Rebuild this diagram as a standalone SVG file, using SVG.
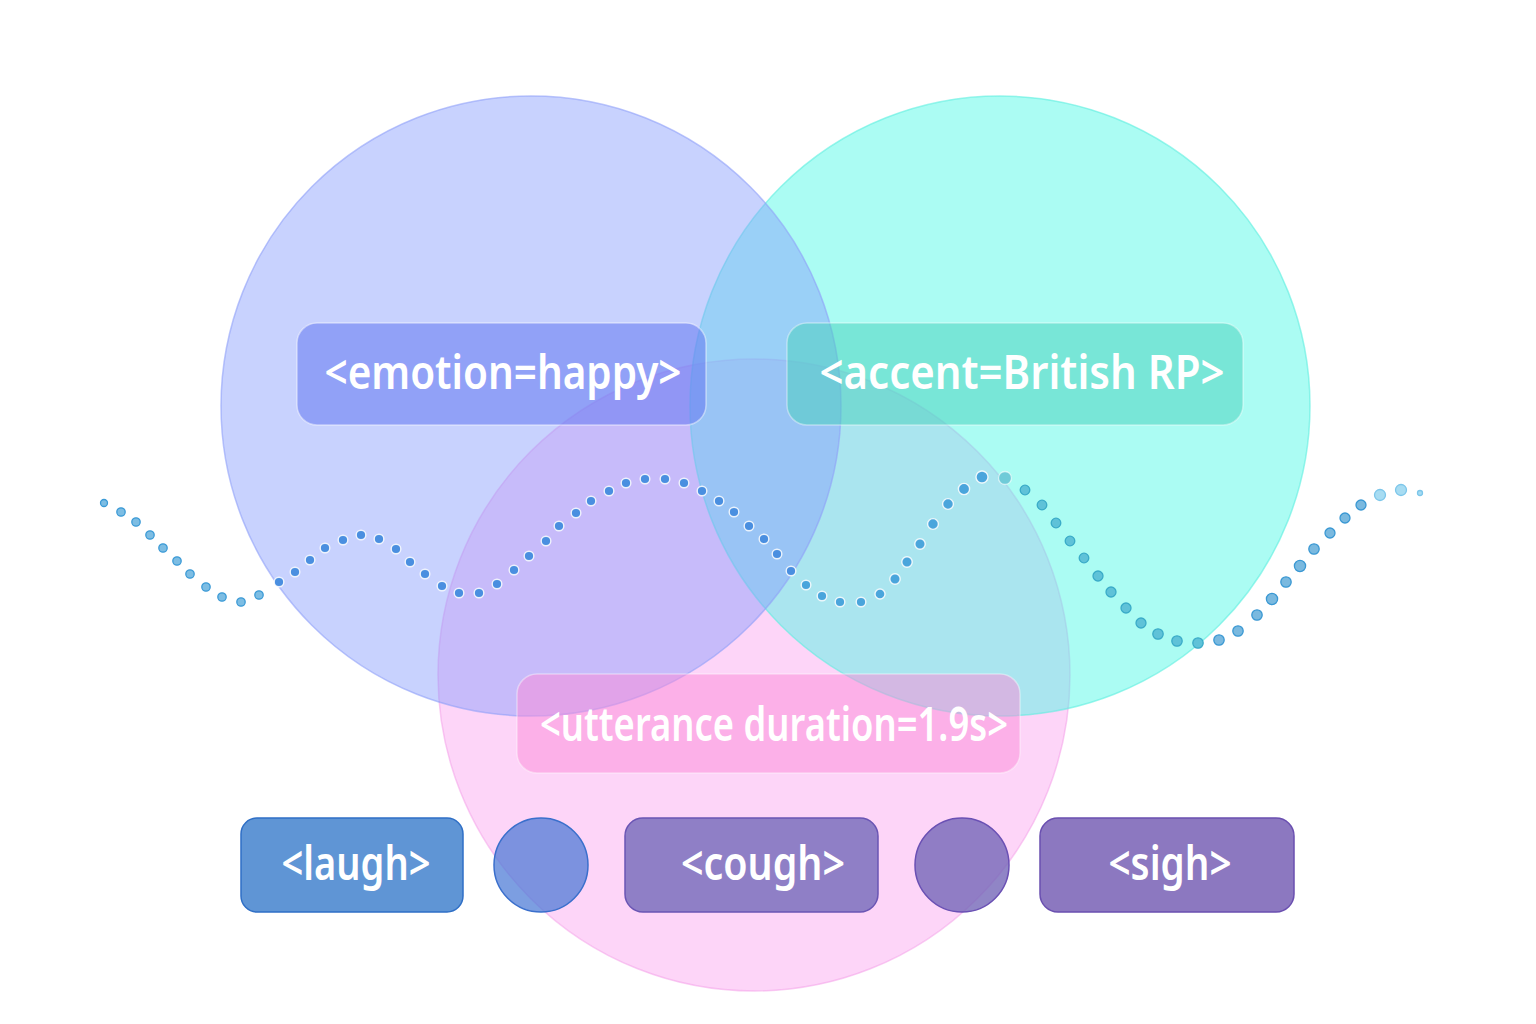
<svg xmlns="http://www.w3.org/2000/svg" width="1536" height="1024" viewBox="0 0 1536 1024">
<style>
.lbl{font-family:"Noto Sans","Open Sans","DejaVu Sans",sans-serif;font-weight:600;font-size:46px;fill:#ffffff;text-anchor:middle}
.dA{fill:#7dbde3;stroke:#3b9ad6;stroke-width:1.3}
.dB{fill:#4a8fe0;stroke:#ffffff;stroke-opacity:0.85;stroke-width:1.4}
.dC{fill:#4aa5dc;stroke:#ffffff;stroke-opacity:0.85;stroke-width:1.4}
.dD{fill:#5fc2d8;stroke:#3aabc8;stroke-width:1.3}
.dE{fill:#7ab9df;stroke:#3a98d3;stroke-width:1.3}
.dF{fill:#a7dcf2;stroke:#7cc6ea;stroke-width:1.3}
</style>
<rect width="1536" height="1024" fill="#ffffff"/>
<g id="circles">
  <circle id="set-utterance" cx="754" cy="675" r="316" fill="#faa2ef" fill-opacity="0.45" stroke="#f39be8" stroke-opacity="0.5" stroke-width="1.5"/>
  <circle id="set-accent" cx="1000" cy="406" r="310" fill="#44f8e4" fill-opacity="0.45" stroke="#5eeedf" stroke-opacity="0.6" stroke-width="1.5"/>
  <circle id="set-emotion" cx="531" cy="406" r="310" fill="#859bfd" fill-opacity="0.45" stroke="#8fa0f8" stroke-opacity="0.6" stroke-width="1.5"/>
</g>
<g id="wave">
  <g class="dA">
    <circle cx="104" cy="503" r="3.5"/><circle cx="121" cy="512" r="4.2"/><circle cx="136" cy="522" r="4.2"/><circle cx="150" cy="535" r="4.2"/><circle cx="163" cy="548" r="4.2"/><circle cx="177" cy="561" r="4.2"/><circle cx="190" cy="574" r="4.2"/><circle cx="206" cy="587" r="4.2"/><circle cx="222" cy="597" r="4.2"/><circle cx="241" cy="602" r="4.2"/><circle cx="259" cy="595" r="4.2"/>
  </g>
  <g class="dB">
    <circle cx="279" cy="582" r="4.8"/><circle cx="295" cy="572" r="4.8"/><circle cx="310" cy="560" r="4.8"/><circle cx="325" cy="548" r="4.8"/><circle cx="343" cy="540" r="4.8"/><circle cx="361" cy="535" r="4.8"/><circle cx="379" cy="539" r="4.8"/><circle cx="396" cy="549" r="4.8"/><circle cx="410" cy="562" r="4.8"/><circle cx="425" cy="574" r="4.8"/><circle cx="442" cy="586" r="4.8"/><circle cx="459" cy="593" r="4.8"/><circle cx="479" cy="593" r="4.8"/><circle cx="497" cy="584" r="4.8"/><circle cx="514" cy="570" r="4.8"/><circle cx="529" cy="556" r="4.8"/><circle cx="546" cy="541" r="4.8"/><circle cx="559" cy="526" r="4.8"/><circle cx="576" cy="513" r="4.8"/><circle cx="591" cy="501" r="4.8"/><circle cx="609" cy="491" r="4.8"/><circle cx="626" cy="483" r="4.8"/><circle cx="645" cy="479" r="4.8"/><circle cx="665" cy="479" r="4.8"/><circle cx="684" cy="483" r="4.8"/><circle cx="702" cy="491" r="4.8"/><circle cx="719" cy="501" r="4.8"/><circle cx="734" cy="512" r="4.8"/><circle cx="749" cy="526" r="4.8"/><circle cx="764" cy="539" r="4.8"/><circle cx="777" cy="554" r="4.8"/><circle cx="791" cy="571" r="4.8"/>
  </g>
  <g class="dC">
    <circle cx="806" cy="585" r="4.8"/><circle cx="822" cy="596" r="4.8"/><circle cx="840" cy="602" r="4.8"/><circle cx="861" cy="602" r="4.8"/><circle cx="880" cy="594" r="5"/><circle cx="895" cy="579" r="5.2"/><circle cx="907" cy="562" r="5.2"/><circle cx="920" cy="544" r="5.2"/><circle cx="933" cy="524" r="5.4"/><circle cx="948" cy="504" r="5.4"/><circle cx="964" cy="489" r="5.6"/><circle cx="982" cy="477" r="6"/>
  </g>
  <circle cx="1005" cy="478" r="6.5" fill="#6fcbd8" stroke="#ffffff" stroke-opacity="0.6" stroke-width="1.3"/>
  <g class="dD">
    <circle cx="1025" cy="490" r="4.8"/><circle cx="1042" cy="505" r="4.8"/><circle cx="1056" cy="523" r="4.8"/><circle cx="1070" cy="541" r="4.8"/><circle cx="1084" cy="558" r="4.8"/><circle cx="1098" cy="576" r="5"/><circle cx="1111" cy="592" r="5"/><circle cx="1126" cy="608" r="5"/><circle cx="1141" cy="623" r="5"/><circle cx="1158" cy="634" r="5.2"/><circle cx="1177" cy="641" r="5.2"/><circle cx="1198" cy="643" r="5.2"/>
  </g>
  <g class="dE">
    <circle cx="1219" cy="640" r="5.2"/><circle cx="1238" cy="631" r="5.2"/><circle cx="1257" cy="615" r="5.2"/><circle cx="1272" cy="599" r="5.6"/><circle cx="1286" cy="582" r="5.2"/><circle cx="1300" cy="566" r="5.6"/><circle cx="1314" cy="549" r="5.2"/><circle cx="1330" cy="533" r="5"/><circle cx="1345" cy="518" r="5"/><circle cx="1361" cy="505" r="5"/>
  </g>
  <g class="dF">
    <circle cx="1380" cy="495" r="5.5"/><circle cx="1401" cy="490" r="5.5"/><circle cx="1420" cy="493" r="2.5"/>
  </g>
</g>
<g id="emotion">
  <rect x="297" y="323" width="409" height="102" rx="20" fill="#6478f0" fill-opacity="0.55" stroke="#ffffff" stroke-opacity="0.45" stroke-width="1.5"/>
  <text class="lbl" x="503" y="389" textLength="357" lengthAdjust="spacingAndGlyphs">&lt;emotion=happy&gt;</text>
</g>
<g id="accent">
  <rect x="787" y="323" width="456" height="102" rx="20" fill="#46d0bc" fill-opacity="0.5" stroke="#ffffff" stroke-opacity="0.4" stroke-width="1.5"/>
  <text class="lbl" x="1022" y="389" textLength="405" lengthAdjust="spacingAndGlyphs">&lt;accent=British RP&gt;</text>
</g>
<g id="utterance">
  <rect x="517" y="674" width="503" height="99" rx="20" fill="#fc8cd7" fill-opacity="0.5" stroke="#ffffff" stroke-opacity="0.4" stroke-width="1.5"/>
  <text class="lbl" x="774" y="741" textLength="468" lengthAdjust="spacingAndGlyphs">&lt;utterance duration=1.9s&gt;</text>
</g>
<g id="laugh">
  <rect x="241" y="818" width="222" height="94" rx="16" fill="#5f95d5" stroke="#2f6fc6" stroke-width="1.5"/>
  <text class="lbl" x="356" y="880" textLength="149" lengthAdjust="spacingAndGlyphs">&lt;laugh&gt;</text>
</g>
<g id="marker-1">
  <circle cx="541" cy="865" r="47" fill="#4a78d6" fill-opacity="0.72" stroke="#3a6fcc" stroke-width="1.5"/>
</g>
<g id="cough">
  <rect x="625" y="818" width="253" height="94" rx="18" fill="#8f7fc6" stroke="#6a55b4" stroke-width="1.5"/>
  <text class="lbl" x="763" y="880" textLength="164" lengthAdjust="spacingAndGlyphs">&lt;cough&gt;</text>
</g>
<g id="marker-2">
  <circle cx="962" cy="865" r="47" fill="#7466b8" fill-opacity="0.8" stroke="#6a50b4" stroke-width="1.5"/>
</g>
<g id="sigh">
  <rect x="1040" y="818" width="254" height="94" rx="18" fill="#8c78c0" stroke="#6a4fb0" stroke-width="1.5"/>
  <text class="lbl" x="1170" y="880" textLength="123" lengthAdjust="spacingAndGlyphs">&lt;sigh&gt;</text>
</g>
</svg>
